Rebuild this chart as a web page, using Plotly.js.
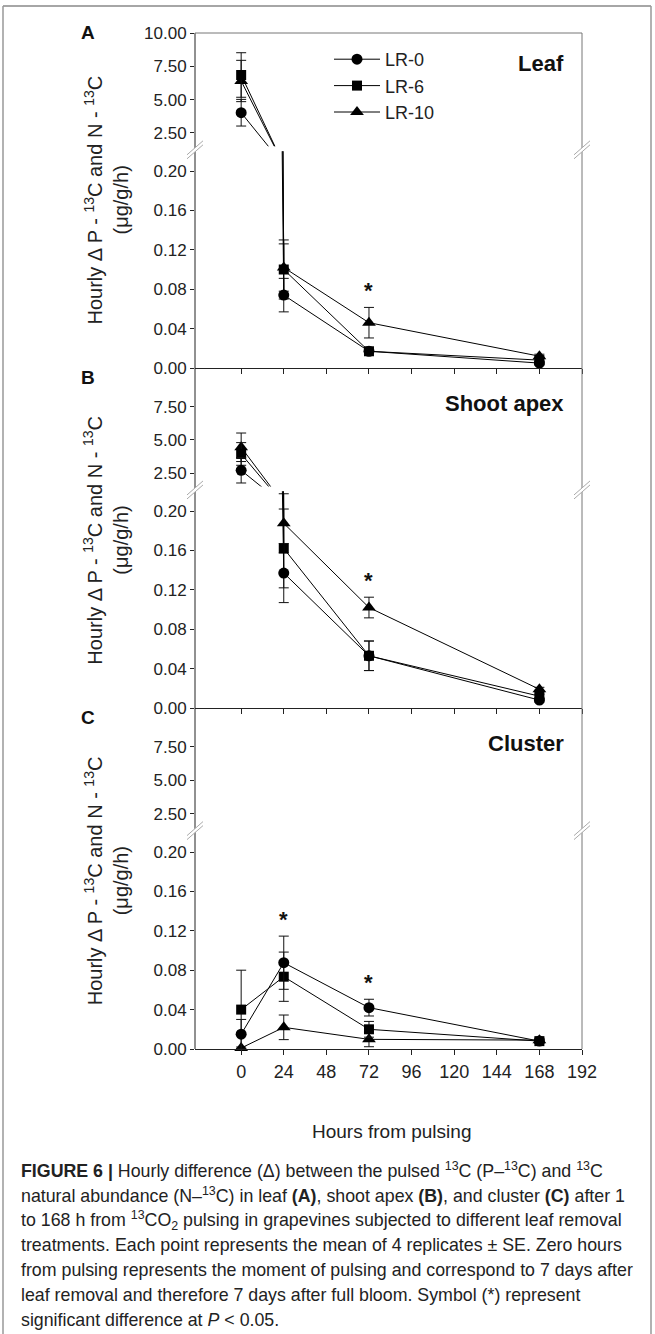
<!DOCTYPE html>
<html><head><meta charset="utf-8">
<script src="https://cdn.plot.ly/plotly-3.0.1.min.js"></script>
<style>html,body{margin:0;padding:0;background:#fff}#chart{width:655px;height:1334px}</style>
</head><body><div id="chart"></div>
<script>
// ---------------- DATA ----------------
const hours = [0, 24, 72, 168];
const seriesNames = ['LR-0', 'LR-6', 'LR-10'];
const panelNames = ['Leaf', 'Shoot apex', 'Cluster'];
const panelLetters = ['A', 'B', 'C'];
const xTicks = [0, 24, 48, 72, 96, 120, 144, 168, 192];
const lowerTicks = [0, 0.04, 0.08, 0.12, 0.16, 0.20];
const upperTicksA = [2.5, 5, 7.5, 10];
const upperTicksBC = [2.5, 5, 7.5];

// Leaf (A)
const leafLR0 = [4.02, 0.074, 0.017, 0.005];
const leafLR0se = [1.00, 0.017, 0.003, 0.002];
const leafLR6 = [6.85, 0.100, 0.017, 0.008];
const leafLR6se = [1.67, 0.030, 0.003, 0.002];
const leafLR10 = [6.40, 0.102, 0.046, 0.012];
const leafLR10se = [1.55, 0.024, 0.0155, 0.002];
// Shoot apex (B)
const apexLR0 = [2.72, 0.137, 0.053, 0.008];
const apexLR0se = [0.95, 0.030, 0.015, 0.002];
const apexLR6 = [3.95, 0.162, 0.053, 0.012];
const apexLR6se = [0.85, 0.040, 0.015, 0.002];
const apexLR10 = [4.45, 0.1875, 0.102, 0.019];
const apexLR10se = [1.07, 0.030, 0.0105, 0.002];
// Cluster (C)
const clusterLR0 = [0.015, 0.0876, 0.042, 0.008];
const clusterLR0se = [0.015, 0.027, 0.0085, 0.002];
const clusterLR6 = [0.040, 0.0734, 0.020, 0.008];
const clusterLR6se = [0.040, 0.025, 0.008, 0.002];
const clusterLR10 = [0.001, 0.022, 0.0098, 0.009];
const clusterLR10se = [0.001, 0.0125, 0.0075, 0.002];

// significant differences (hours)
const sigA = [72];
const sigB = [72];
const sigC = [24, 72];

// ---------------- LAYOUT HELPERS ----------------
const W = 655, H = 1334;
const px2x = v => v / W;
const px2y = v => 1 - v / H;
const X0 = 195, X1 = 582;
const FONT = 'Arial, Liberation Sans, sans-serif';

const panels = [
  {vals: [leafLR0, leafLR6, leafLR10], se: [leafLR0se, leafLR6se, leafLR10se], sig: sigA,
   xa: 'x2', lo: 'y3', up: 'y4', box: [33, 146.3, 151.3, 368], upTicks: upperTicksA},
  {vals: [apexLR0, apexLR6, apexLR10], se: [apexLR0se, apexLR6se, apexLR10se], sig: sigB,
   xa: 'x3', lo: 'y5', up: 'y6', box: [373.3, 486.6, 491.3, 708], upTicks: upperTicksBC},
  {vals: [clusterLR0, clusterLR6, clusterLR10], se: [clusterLR0se, clusterLR6se, clusterLR10se], sig: sigC,
   xa: 'x', lo: 'y', up: 'y2', box: [713.6, 826.9, 832.3, 1049], upTicks: upperTicksBC}
];

const symbols = ['circle', 'square', 'triangle-up'];
const sizes = [11, 10, 12];
const traces = [];
panels.forEach((p, pi) => {
  [2, 1, 0].forEach(s => {
    [p.lo, p.up].forEach((ya, si) => {
      traces.push({
        x: hours, y: p.vals[s], xaxis: p.xa, yaxis: ya,
        type: 'scatter', mode: 'lines+markers', name: seriesNames[s],
        legendrank: s + 1,
        showlegend: pi === 0 && si === 0,
        cliponaxis: false,
        line: {color: '#000', width: 1},
        marker: {symbol: symbols[s], size: sizes[s], color: '#000'},
        error_y: {type: 'data', array: p.se[s], visible: true, color: '#111', thickness: 1, width: 5},
        hoverinfo: 'skip'
      });
    });
  });
});

const axFont = {family: FONT, size: 17, color: '#222'};
const layout = {
  width: W, height: H,
  margin: {l: 0, r: 0, t: 0, b: 0},
  paper_bgcolor: '#fff', plot_bgcolor: 'rgba(0,0,0,0)',
  font: {family: FONT, color: '#222'},
  showlegend: true,
  legend: {x: px2x(329), y: px2y(41), xanchor: 'left', yanchor: 'top',
    font: {family: FONT, size: 18, color: '#222'},
    bgcolor: 'rgba(0,0,0,0)', borderwidth: 0, traceorder: 'normal', itemwidth: 46},
  annotations: [], shapes: []
};

const xBase = {domain: [px2x(X0), px2x(X1)], range: [-26, 192], tickvals: xTicks, ticks: 'outside',
  ticklen: 5, tickcolor: '#222', showline: true, linecolor: '#222', linewidth: 1,
  showgrid: false, zeroline: false, fixedrange: true};
layout.xaxis = Object.assign({}, xBase, {anchor: 'y', showticklabels: true,
  tickfont: {family: FONT, size: 18, color: '#222'}, ticklabelstandoff: 1});
layout.xaxis2 = Object.assign({}, xBase, {anchor: 'y3', showticklabels: false});
layout.xaxis3 = Object.assign({}, xBase, {anchor: 'y5', showticklabels: false});

const yName = id => 'yaxis' + (id === 'y' ? '' : id.slice(1));
panels.forEach(p => {
  const [t, ub, lt, b] = p.box;
  layout[yName(p.lo)] = {domain: [px2y(b), px2y(lt)], range: [0, 0.22], anchor: p.xa,
    tickvals: lowerTicks, tickformat: '.2f', ticks: 'outside', ticklen: 4, tickcolor: '#222',
    tickfont: axFont, showline: false, showgrid: false, zeroline: false, fixedrange: true};
  layout[yName(p.up)] = {domain: [px2y(ub), px2y(t)], range: [1.5, 10], anchor: p.xa,
    tickvals: p.upTicks, tickformat: '.2f', ticks: 'outside', ticklen: 4, tickcolor: '#222',
    tickfont: axFont, showline: false, showgrid: false, zeroline: false, fixedrange: true};
});

// axis frame lines
const sh = layout.shapes;
const line = (x0, y0, x1, y1, color, w) => sh.push({type: 'line', xref: 'paper', yref: 'paper',
  x0: px2x(x0), y0: px2y(y0), x1: px2x(x1), y1: px2y(y1), line: {color: color, width: w}, layer: 'above'});
line(X0, 33, X0, 1049, '#222', 1);
line(X1, 33, X1, 1049, '#777', 1);
line(X0, 33, X1, 33, '#777', 1);
// figure box
line(3, 6, 651, 6, '#888', 1.5);
line(3, 6, 3, 1340, '#999', 1.5);
line(651, 6, 651, 1340, '#999', 1.5);

// break marks
panels.forEach(p => {
  const cy = (p.box[1] + p.box[2]) / 2;
  [X0, X1].forEach(cx => {
    sh.push({type: 'path', xref: 'paper', yref: 'paper', layer: 'above',
      path: 'M' + px2x(cx - 8) + ',' + px2y(cy + 6) + ' L' + px2x(cx + 8) + ',' + px2y(cy - 8) +
            ' L' + px2x(cx + 8) + ',' + px2y(cy - 4) + ' L' + px2x(cx - 8) + ',' + px2y(cy + 10) + ' Z',
      fillcolor: '#fff', line: {width: 0}});
    line(cx - 8, cy + 6, cx + 8, cy - 8, '#aaa', 1);
    line(cx - 8, cy + 10, cx + 8, cy - 4, '#aaa', 1);
  });
});

const ann = layout.annotations;
const txt = (text, x, y, opts) => ann.push(Object.assign({text: text, xref: 'paper', yref: 'paper',
  x: px2x(x), y: px2y(y), showarrow: false, xanchor: 'center', yanchor: 'middle',
  font: {family: FONT, size: 18, color: '#222'}}, opts || {}));

panels.forEach((p, pi) => {
  const [t, ub, lt, b] = p.box;
  const yc = (t + b) / 2;
  txt('Hourly Δ P - <sup>13</sup>C and N - <sup>13</sup>C', 93, yc, {textangle: -90,
    font: {family: FONT, size: 20, color: '#222'}});
  txt('(μg/g/h)', 121, yc, {textangle: -90,
    font: {family: FONT, size: 20, color: '#222'}});
  txt('<b>' + panelLetters[pi] + '</b>', 88, t + (pi === 0 ? 0 : 4), {font: {family: FONT, size: 19, color: '#111'}});
  txt('<b>' + panelNames[pi] + '</b>', 566, t + 30, {xanchor: 'right',
    font: {family: FONT, size: 22, color: '#111'}});
  // significance stars
  p.sig.forEach(h => {
    const i = hours.indexOf(h);
    let top = 0;
    for (let s = 0; s < 3; s++) top = Math.max(top, p.vals[s][i] + p.se[s][i]);
    ann.push({text: '<b>*</b>', xref: p.xa, yref: p.lo, x: h, y: top + 0.019, showarrow: false,
      xanchor: 'center', yanchor: 'middle', yshift: -2,
      font: {family: FONT, size: 22, color: '#111'}});
  });
});

txt('Hours from pulsing', (X0 + X1) / 2 + 3, 1131, {font: {family: FONT, size: 19, color: '#222'}});

const caption = [
  '<b>FIGURE 6 |</b> Hourly difference (Δ) between the pulsed <sup>13</sup>C (P–<sup>13</sup>C) and <sup>13</sup>C',
  'natural abundance (N–<sup>13</sup>C) in leaf <b>(A)</b>, shoot apex <b>(B)</b>, and cluster <b>(C)</b> after 1',
  'to 168 h from <sup>13</sup>CO<sub>2</sub> pulsing in grapevines subjected to different leaf removal',
  'treatments. Each point represents the mean of 4 replicates ± SE. Zero hours',
  'from pulsing represents the moment of pulsing and correspond to 7 days after',
  'leaf removal and therefore 7 days after full bloom. Symbol (*) represent',
  'significant difference at <i>P</i> &lt; 0.05.'
];
caption.forEach((c, i) => txt(c, 19, 1170 + 25 * i, {xanchor: 'left',
  font: {family: FONT, size: 17.8, color: '#222'}}));

Plotly.newPlot('chart', traces, layout, {staticPlot: true, displayModeBar: false});
</script></body></html>
